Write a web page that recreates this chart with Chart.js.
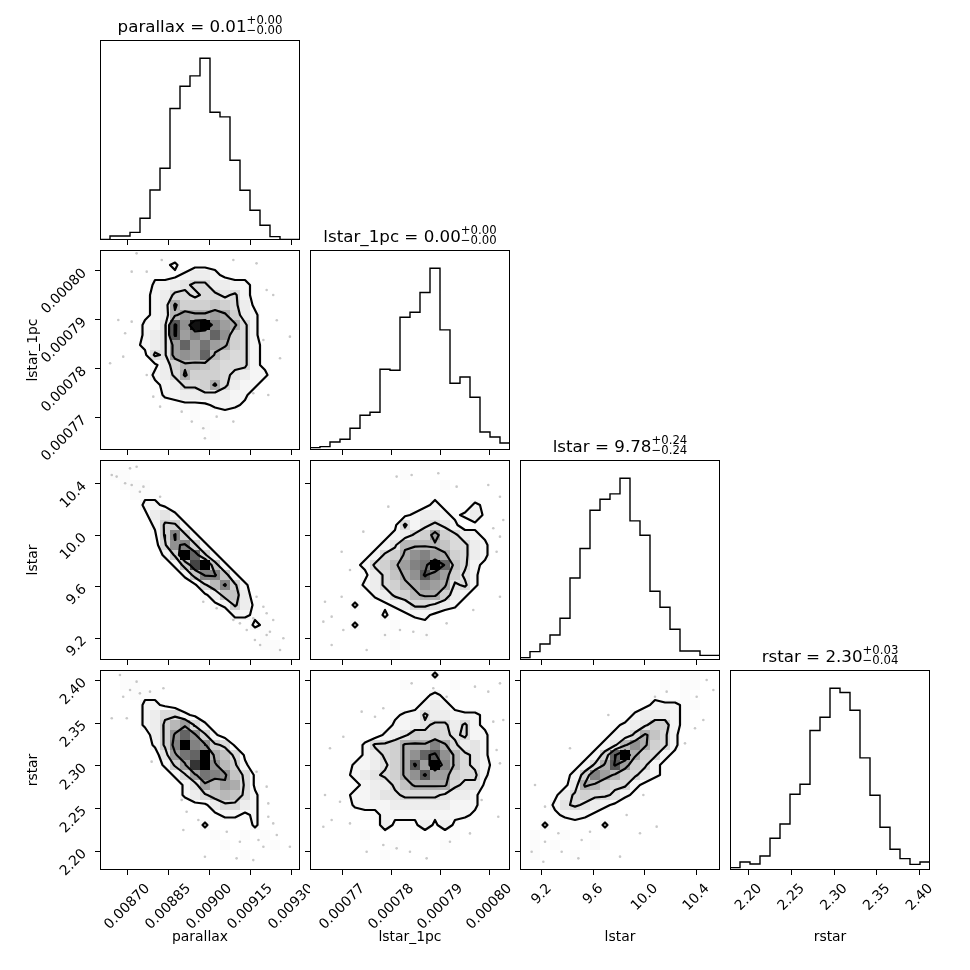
<!DOCTYPE html>
<html>
<head>
<meta charset="utf-8">
<script src="https://cdn.jsdelivr.net/npm/chart.js@4.4.1/dist/chart.umd.min.js"></script>
<style>
  html, body { margin: 0; padding: 0; background: #fff; overflow: hidden; }
  #fig { position: relative; width: 970px; height: 970px; background: #fff; }
  #fig canvas { position: absolute; }
</style>
</head>
<body>
<div id="fig"></div>
<script>
// ---- data ----
const names = ['parallax', 'lstar_1pc', 'lstar', 'rstar'];
const ranges = [[0.008600, 0.009332], [0.00076341, 0.00080422], [9.0315, 10.584], [2.1781, 2.4120]];
const tickValues = [
  [0.00870, 0.00885, 0.00900, 0.00915, 0.00930],
  [0.00077, 0.00078, 0.00079, 0.00080],
  [9.2, 9.6, 10.0, 10.4],
  [2.20, 2.25, 2.30, 2.35, 2.40]
];
const tickDecimals = [5, 5, 1, 2];
const titleValues = ['0.01', '0.00', '9.78', '2.30'];
const titlePlus = ['0.00', '0.00', '0.24', '0.03'];
const titleMinus = ['0.00', '0.00', '0.24', '0.04'];

// 1D histograms, 20 bins over each range
const histParallax = [2, 12, 12, 23, 65, 150, 215, 394, 461, 492, 545, 383, 369, 239, 149, 89, 44, 10, 2, 2];
const histLstar1pc = [7, 10, 24, 32, 65, 104, 113, 242, 239, 398, 413, 472, 545, 360, 200, 219, 158, 54, 39, 21];
const histLstar = [7, 25, 48, 75, 125, 246, 334, 449, 482, 498, 545, 417, 374, 206, 158, 92, 27, 27, 14, 14];
const histRstar = [7, 24, 18, 42, 95, 138, 227, 257, 418, 458, 545, 532, 479, 336, 224, 128, 62, 34, 17, 24];

// 2D histograms, 20x20 bins, top row first, one base-36 digit per bin (0..k = 0..20)
const densParallaxLstar1pc = [
  "00000010010000000000", "00000012011100000000", "00000111233211100000", "00000223455332210000",
  "00001235545545210000", "00001239666765310000", "00001238a99a96320000", "0000224fbjkca9520000",
  "0000234facaeb6520000", "0001234aeada96521000", "0000154abae865521000", "00000136887655521000",
  "00000235966654322000", "00000123556953220000", "00000022334332200000", "00000001111222100000",
  "00000000010010000000", "00000001001000000000", "00000000000100000000", "00000000000000000000"
];
const densParallaxLstar = [
  "00000000000000000000", "01100000000000000000", "00111000000000000000", "00011100000000000000",
  "00002210000000000000", "00001342000000000000", "00000266200000000000", "0000016c620000000000",
  "0000005bc62000000000", "00000026ke6200000000", "000000027gk720000000", "0000000027cc72000000",
  "000000000158c6200000", "00000000001377300000", "00000000000126310000", "00000000000002210000",
  "00000000000000021000", "00000000000000001000", "00000000000000001100", "00000000000000000100"
];
const densParallaxRstar = [
  "00100000000000000000", "00110000000000000000", "00011100000000000000", "00002210000000000000",
  "00002355210000000000", "00002368a52000000000", "0000036beb6200000000", "0000026ckcb651000000",
  "0000004adek975100000", "00000026ahkb86200000", "000000025adcb7510000", "0000000024a8a9510000",
  "00000000235787520000", "00000000011355320000", "00000000000122120000", "00000000002000020000",
  "00000000000100101000", "00000000000010000100", "00000000000000100000", "00000000000000000000"
];
const densLstar1pcLstar = [
  "00000000000100000000", "00000000010000000000", "00000000000001000000", "00000000010010000000",
  "00000000000121002100", "00000000012332123100", "00000000152454201000", "000000012356a6532100",
  "00000012488887553200", "0000012569bca9653200", "000012568acdke752100", "0000013579bfca642000",
  "00000235689ba9452000", "00000023568996320000", "00002001235543200000", "00000002012210000000",
  "00002000100100000000", "00000001000100000000", "00000000100000000000", "00000000000000000000"
];
const densLstar1pcRstar = [
  "00000000000020000000", "00000000010000100000", "00000000000121000000", "00000000001232100000",
  "00000000122533222100", "00000000223455352100", "00000002346565452200", "000002556999c9534200",
  "0000023569befb854200", "0000223469fakc854210", "0001234569bfaa655200", "00001233579999544100",
  "00012234455554332000", "00002222333333222000", "00000112222222221000", "00000003111313100000",
  "00000100001000100000", "00000000100001000000", "00000001000000000000", "00000000000000000000"
];
const densLstarRstar = [
  "00000000000000010100", "00000000000000101100", "00000000000001001000", "00000000000012221100",
  "00000000000233321000", "00000000012346621000", "00000000123597520000", "00000001248b96520000",
  "000000126ek965210000", "000001259fa652100000", "0000126ca86532100000", "00001398655210000000",
  "00013565542100000000", "00024543210000000000", "00012221000000000000", "00200100200000000000",
  "01001000000000000000", "01010001000000000000", "01000100000000000000", "00000000000000000000"
];

// contour levels (same units as the bins)
const levelsParallaxLstar1pc = [1.5, 4.5, 8.5, 14.5];
const levelsParallaxLstar = [1.5, 5.5, 11.5];
const levelsParallaxRstar = [1.5, 5.5, 10.5];
const levelsLstar1pcLstar = [1.5, 4.5, 8.5, 14.5];
const levelsLstar1pcRstar = [1.5, 4.5, 8.5, 14.5];
const levelsLstarRstar = [1.5, 4.5, 8.5, 14.5];

// stray samples outside the outer contour
const dotsParallaxLstar1pcX = [0.008734, 0.008716, 0.008771, 0.008826, 0.009088, 0.009173, 0.00921, 0.009234, 0.008667, 0.008716, 0.008692, 0.008685, 0.008637, 0.008771, 0.008795, 0.00882, 0.008899, 0.008936, 0.008978, 0.008984, 0.009027, 0.009088, 0.009161, 0.009216, 0.009259, 0.009198, 0.009247, 0.009295];
const dotsParallaxLstar1pcY = [0.00080354, 0.0007998, 0.0007998, 0.00080218, 0.00080218, 0.0008015, 0.00079606, 0.00079504, 0.00078994, 0.0007896, 0.00078722, 0.00078246, 0.0007811, 0.00077872, 0.0007743, 0.00077226, 0.00077124, 0.0007692, 0.00076784, 0.0007658, 0.00077022, 0.0007692, 0.00077498, 0.00077464, 0.00078212, 0.00078586, 0.0007899, 0.00078654];
const dotsParallaxLstarX = [0.008643, 0.008661, 0.008692, 0.008716, 0.008734, 0.00871, 0.008759, 0.008746, 0.00882, 0.008978, 0.009027, 0.009088, 0.009112, 0.009137, 0.009173, 0.009198, 0.00921, 0.009222, 0.009234, 0.009259, 0.009167, 0.009186, 0.00921, 0.009271, 0.009161];
const dotsParallaxLstarY = [10.468, 10.455, 10.403, 10.39, 10.532, 10.519, 10.377, 10.338, 10.299, 9.484, 9.433, 9.342, 9.316, 9.264, 9.523, 9.445, 9.394, 9.251, 9.342, 9.109, 9.187, 9.148, 9.226, 9.2, 9.355];
const dotsParallaxRstarX = [0.008673, 0.008734, 0.00871, 0.008685, 0.008746, 0.008783, 0.008832, 0.008643, 0.008698, 0.008789, 0.008899, 0.008917, 0.00896, 0.009064, 0.009112, 0.00918, 0.00921, 0.009216, 0.009216, 0.009198, 0.009247, 0.009234, 0.0091, 0.009161, 0.008984, 0.008905, 0.009173, 0.009295];
const dotsParallaxRstarY = [2.4062, 2.3984, 2.3886, 2.3808, 2.3847, 2.3867, 2.3906, 2.3555, 2.3555, 2.3048, 2.2599, 2.2463, 2.2366, 2.2229, 2.2112, 2.2131, 2.2756, 2.256, 2.2404, 2.2053, 2.219, 2.2326, 2.1917, 2.1897, 2.1936, 2.2248, 2.293, 2.2053];
const dotsLstar1pcLstarX = [0.00078109, 0.00078415, 0.00078959, 0.00079333, 0.00079979, 0.00080217, 0.00080285, 0.00080081, 0.00080217, 0.00080149, 0.00080217, 0.00079673, 0.00079129, 0.00078721, 0.00078449, 0.00078177, 0.00077871, 0.00077497, 0.00076783, 0.00077021, 0.00076647, 0.00076613, 0.00076987, 0.00077157, 0.00077429, 0.00077939, 0.00076987, 0.00076783];
const dotsLstar1pcLstarY = [10.455, 10.468, 10.481, 10.377, 10.39, 10.299, 10.118, 10.054, 9.989, 9.872, 9.523, 9.42, 9.316, 9.226, 9.251, 9.264, 9.226, 9.109, 9.148, 9.264, 9.484, 9.329, 9.523, 9.73, 10.028, 10.222, 9.872, 9.368];
const dotsLstar1pcRstarX = [0.00078415, 0.00078857, 0.00079129, 0.00079707, 0.00079979, 0.00080217, 0.00080285, 0.00080081, 0.00080149, 0.00080217, 0.00079843, 0.00080183, 0.00079605, 0.00079197, 0.00078721, 0.00078381, 0.00078109, 0.00077837, 0.00077497, 0.00077157, 0.00076783, 0.00076613, 0.00076953, 0.00076647, 0.00076749, 0.00077021, 0.00077395, 0.00077667, 0.00077837];
const dotsLstar1pcRstarY = [2.3964, 2.3906, 2.3808, 2.3925, 2.3867, 2.3964, 2.3535, 2.3516, 2.3184, 2.3028, 2.2599, 2.2404, 2.2209, 2.2112, 2.1917, 2.1995, 2.2034, 2.2073, 2.1995, 2.2326, 2.2365, 2.2287, 2.258, 2.2658, 2.3204, 2.334, 2.3633, 2.3574, 2.3672];
const dotsLstarRstarX = [9.148, 9.2256, 9.329, 9.2256, 9.122, 9.2126, 9.355, 9.4843, 9.5102, 9.5749, 9.8078, 10.0924, 9.963, 9.8595, 9.9889, 10.2347, 10.3123, 10.39, 10.4546, 10.4029, 10.4805, 10.5323, 10.17, 10.0794, 9.7172, 9.4196];
const dotsLstarRstarY = [2.2775, 2.2522, 2.221, 2.2112, 2.1995, 2.1878, 2.1995, 2.1917, 2.2132, 2.2229, 2.1937, 2.2288, 2.221, 2.2424, 2.2658, 2.3184, 2.3262, 2.3438, 2.3535, 2.3808, 2.4003, 2.3886, 2.3867, 2.3808, 2.3594, 2.3204];

const hists = [histParallax, histLstar1pc, histLstar, histRstar];
const panels = [
  { row: 1, col: 0, grid: densParallaxLstar1pc, levels: levelsParallaxLstar1pc, dx: dotsParallaxLstar1pcX, dy: dotsParallaxLstar1pcY },
  { row: 2, col: 0, grid: densParallaxLstar, levels: levelsParallaxLstar, dx: dotsParallaxLstarX, dy: dotsParallaxLstarY },
  { row: 3, col: 0, grid: densParallaxRstar, levels: levelsParallaxRstar, dx: dotsParallaxRstarX, dy: dotsParallaxRstarY },
  { row: 2, col: 1, grid: densLstar1pcLstar, levels: levelsLstar1pcLstar, dx: dotsLstar1pcLstarX, dy: dotsLstar1pcLstarY },
  { row: 3, col: 1, grid: densLstar1pcRstar, levels: levelsLstar1pcRstar, dx: dotsLstar1pcRstarX, dy: dotsLstar1pcRstarY },
  { row: 3, col: 2, grid: densLstarRstar, levels: levelsLstarRstar, dx: dotsLstarRstarX, dy: dotsLstarRstarY }
];

// ---- helpers ----
const FONT = '"DejaVu Sans", sans-serif';
Chart.defaults.font.family = FONT;
Chart.defaults.color = '#000';

function histData(counts, range) {
  const w = (range[1] - range[0]) / counts.length;
  const pts = [{ x: range[0], y: 0 }];
  counts.forEach((c, i) => pts.push({ x: range[0] + i * w, y: c }));
  pts.push({ x: range[1], y: counts[counts.length - 1] });
  pts.push({ x: range[1], y: 0 });
  return pts;
}

function cellData(G, xr, yr) {
  const dx = (xr[1] - xr[0]) / G[0].length, dy = (yr[1] - yr[0]) / G.length;
  const pts = [];
  G.forEach((line, r) => line.forEach((v, c) => {
    if (v > 0) pts.push({ x: xr[0] + (c + 0.5) * dx, y: yr[1] - (r + 0.5) * dy, v });
  }));
  return pts;
}

// marching squares on bin centres, segments chained into closed lines
function contourLines(G, xr, yr, level) {
  const n = G.length, m = G[0].length;
  const dx = (xr[1] - xr[0]) / m, dy = (yr[1] - yr[0]) / n;
  const val = (i, j) => (i < 0 || j < 0 || i >= n || j >= m) ? 0 : G[i][j];
  const cx = j => xr[0] + (j + 0.5) * dx;
  const cy = i => yr[1] - (i + 0.5) * dy;
  const pts = {};
  const cross = (key, i1, j1, i2, j2) => {
    if (!pts[key]) {
      const a = val(i1, j1), b = val(i2, j2), t = (level - a) / (b - a);
      pts[key] = { x: cx(j1) + t * (cx(j2) - cx(j1)), y: cy(i1) + t * (cy(i2) - cy(i1)) };
    }
    return key;
  };
  const segs = [];
  for (let i = -1; i < n; i++) {
    for (let j = -1; j < m; j++) {
      const tl = val(i, j), tr = val(i, j + 1), br = val(i + 1, j + 1), bl = val(i + 1, j);
      const code = (tl > level ? 8 : 0) | (tr > level ? 4 : 0) | (br > level ? 2 : 0) | (bl > level ? 1 : 0);
      if (code === 0 || code === 15) continue;
      const T = () => cross('h' + i + '_' + j, i, j, i, j + 1);
      const B = () => cross('h' + (i + 1) + '_' + j, i + 1, j, i + 1, j + 1);
      const L = () => cross('v' + i + '_' + j, i, j, i + 1, j);
      const R = () => cross('v' + i + '_' + (j + 1), i, j + 1, i + 1, j + 1);
      const mid = (tl + tr + br + bl) / 4 > level;
      switch (code) {
        case 1: case 14: segs.push([L(), B()]); break;
        case 2: case 13: segs.push([B(), R()]); break;
        case 3: case 12: segs.push([L(), R()]); break;
        case 4: case 11: segs.push([T(), R()]); break;
        case 6: case 9: segs.push([T(), B()]); break;
        case 7: case 8: segs.push([T(), L()]); break;
        case 5:
          if (mid) segs.push([T(), L()], [B(), R()]); else segs.push([T(), R()], [L(), B()]);
          break;
        case 10:
          if (mid) segs.push([T(), R()], [L(), B()]); else segs.push([T(), L()], [B(), R()]);
          break;
      }
    }
  }
  const byKey = {};
  segs.forEach((s, k) => s.forEach(key => (byKey[key] = byKey[key] || []).push(k)));
  const used = segs.map(() => false);
  const grow = line => {
    for (;;) {
      const end = line[line.length - 1];
      const next = byKey[end].find(k => !used[k]);
      if (next === undefined) return;
      used[next] = true;
      line.push(segs[next][0] === end ? segs[next][1] : segs[next][0]);
    }
  };
  const out = [];
  segs.forEach((s, k) => {
    if (used[k]) return;
    used[k] = true;
    const line = [s[0], s[1]];
    grow(line); line.reverse(); grow(line);
    line.forEach(key => out.push({ x: pts[key].x, y: pts[key].y }));
    out.push({ x: pts[line[0]].x, y: null });
  });
  return out;
}

// black with opacity growing with the bin value, as corner's density map
function shade(v, vmax) {
  return 'rgba(0,0,0,' + Math.pow(v / vmax, 1.4).toFixed(3) + ')';
}

// ---- plugins: frame, rotated tick labels, titles with +/- ----
const framePlugin = {
  id: 'frame',
  afterDraw(chart) {
    const { ctx, chartArea: a } = chart;
    ctx.save();
    ctx.strokeStyle = '#000';
    ctx.lineWidth = 1;
    ctx.strokeRect(a.left + 0.5, a.top + 0.5, a.right - a.left - 1, a.bottom - a.top - 1);
    ctx.restore();
  }
};

function drawRotated(ctx, text, cx, cy, cap) {
  ctx.save();
  ctx.translate(cx, cy);
  ctx.rotate(-Math.PI / 4);
  ctx.textAlign = 'center';
  ctx.textBaseline = 'alphabetic';
  ctx.fillText(text, 0, cap / 2);
  ctx.restore();
}

const tickLabelPlugin = {
  id: 'cornerTicks',
  afterDraw(chart, args, opts) {
    const { ctx, chartArea: a } = chart;
    const cap = 10;
    ctx.save();
    ctx.fillStyle = '#000';
    ctx.font = '13.9px ' + FONT;
    if (opts.x >= 0) {
      const sc = chart.scales.x;
      sc.ticks.forEach(t => {
        const label = t.value.toFixed(tickDecimals[opts.x]);
        const b = (ctx.measureText(label).width + cap) / Math.SQRT2;
        drawRotated(ctx, label, sc.getPixelForValue(t.value) - 1, a.bottom + 12 + b / 2, cap);
      });
    }
    if (opts.y >= 0) {
      const sc = chart.scales.y;
      sc.ticks.forEach(t => {
        const label = t.value.toFixed(tickDecimals[opts.y]);
        const b = (ctx.measureText(label).width + cap) / Math.SQRT2;
        drawRotated(ctx, label, a.left - 13 - b / 2, sc.getPixelForValue(t.value) - 4 + b / 2, cap);
      });
    }
    ctx.restore();
  }
};

const titlePlugin = {
  id: 'cornerTitle',
  afterDraw(chart, args, opts) {
    if (!(opts.index >= 0)) return;
    const k = opts.index;
    const { ctx, chartArea: a } = chart;
    const main = names[k] + ' = ' + titleValues[k];
    const sup = '+' + titlePlus[k];
    const sub = '\u2212' + titleMinus[k];
    ctx.save();
    ctx.fillStyle = '#000';
    ctx.textAlign = 'left';
    ctx.textBaseline = 'alphabetic';
    ctx.font = '16.7px ' + FONT;
    const wm = ctx.measureText(main).width;
    ctx.font = '11.7px ' + FONT;
    const ws = Math.max(ctx.measureText(sup).width, ctx.measureText(sub).width);
    const x0 = (a.left + a.right) / 2 - (wm + ws) / 2;
    const base = a.top - 8.4;
    ctx.fillText(sup, x0 + wm, base - 7.3);
    ctx.fillText(sub, x0 + wm, base + 2);
    ctx.font = '16.7px ' + FONT;
    ctx.fillText(main, x0, base);
    ctx.restore();
  }
};

Chart.register(framePlugin, tickLabelPlugin, titlePlugin);

// ---- layout ----
const fig = document.getElementById('fig');
function makeCanvas(row, col) {
  const c = document.createElement('canvas');
  c.width = 310; c.height = 340;
  c.style.width = '310px'; c.style.height = '340px';
  c.style.left = (210 * col) + 'px';
  c.style.top = (210 * row) + 'px';
  fig.appendChild(c);
  return c;
}

function xAxis(col, labeled) {
  return {
    type: 'linear', position: 'bottom', min: ranges[col][0], max: ranges[col][1],
    afterBuildTicks: s => { s.ticks = tickValues[col].map(v => ({ value: v })); },
    afterFit: s => { s.height = 100; },
    ticks: { display: false },
    grid: { drawOnChartArea: false, drawTicks: true, tickLength: 5, tickWidth: 1, color: '#000' },
    border: { display: false },
    title: { display: labeled, text: names[col], color: '#000', font: { size: 13.9 }, padding: { top: 0, bottom: 24.7 } }
  };
}

function yAxis(row, labeled) {
  return {
    type: 'linear', position: 'left', min: ranges[row][0], max: ranges[row][1],
    afterBuildTicks: s => { s.ticks = tickValues[row].map(v => ({ value: v })); },
    afterFit: s => { s.width = 100; },
    ticks: { display: false },
    grid: { drawOnChartArea: false, drawTicks: true, tickLength: 5, tickWidth: 1, color: '#000' },
    border: { display: false },
    title: { display: labeled, text: names[row], color: '#000', font: { size: 13.9 }, padding: { top: 24.7, bottom: 0 } }
  };
}

function baseOptions(scales, labelX, labelY, title) {
  return {
    responsive: false,
    animation: false,
    events: [],
    layout: { padding: { left: 0, top: 40, right: 10, bottom: 0 } },
    plugins: {
      legend: { display: false },
      tooltip: { enabled: false },
      cornerTicks: { x: labelX, y: labelY },
      cornerTitle: { index: title }
    },
    scales
  };
}

// diagonal: 1D histograms
hists.forEach((counts, k) => {
  const bottomRow = k === 3;
  new Chart(makeCanvas(k, k), {
    type: 'scatter',
    data: {
      datasets: [{
        data: histData(counts, ranges[k]),
        showLine: true, stepped: 'before',
        borderColor: '#000', borderWidth: 1.4,
        pointRadius: 0, fill: false
      }]
    },
    options: baseOptions({
      x: xAxis(k, bottomRow),
      y: {
        display: true, min: 0, max: 1.1 * Math.max(...counts),
        afterFit: s => { s.width = 100; },
        ticks: { display: false }, grid: { display: false }, border: { display: false }
      }
    }, bottomRow ? k : -1, -1, k)
  });
});

// lower triangle: samples, 2D histograms and contours
panels.forEach(p => {
  const xr = ranges[p.col], yr = ranges[p.row];
  const G = p.grid.map(s => Array.from(s, ch => parseInt(ch, 36)));
  const vmax = Math.max(...G.flat());
  const dx = (xr[1] - xr[0]) / G[0].length;
  let lines = [];
  p.levels.forEach(l => { lines = lines.concat(contourLines(G, xr, yr, l)); });
  new Chart(makeCanvas(p.row, p.col), {
    type: 'scatter',
    data: {
      datasets: [
        {
          data: lines, showLine: true,
          borderColor: '#000', borderWidth: 2.2,
          borderJoinStyle: 'round', borderCapStyle: 'round',
          pointRadius: 0, fill: false, order: 0
        },
        {
          data: cellData(G, xr, yr),
          pointStyle: 'rect',
          pointRadius: ctx => {
            const s = ctx.chart.scales.x;
            const side = Math.abs(s.getPixelForValue(xr[0] + dx) - s.getPixelForValue(xr[0]));
            return side / Math.SQRT2;
          },
          pointBackgroundColor: ctx => ctx.raw ? shade(ctx.raw.v, vmax) : 'rgba(0,0,0,0)',
          pointBorderWidth: 0,
          order: 1
        },
        {
          data: p.dx.map((x, i) => ({ x, y: p.dy[i] })),
          pointStyle: 'circle', pointRadius: 1.3,
          pointBackgroundColor: '#c8c8c8', pointBorderWidth: 0,
          order: 2
        }
      ]
    },
    options: baseOptions({
      x: xAxis(p.col, p.row === 3),
      y: yAxis(p.row, p.col === 0)
    }, p.row === 3 ? p.col : -1, p.col === 0 ? p.row : -1, -1)
  });
});
</script>
</body>
</html>
